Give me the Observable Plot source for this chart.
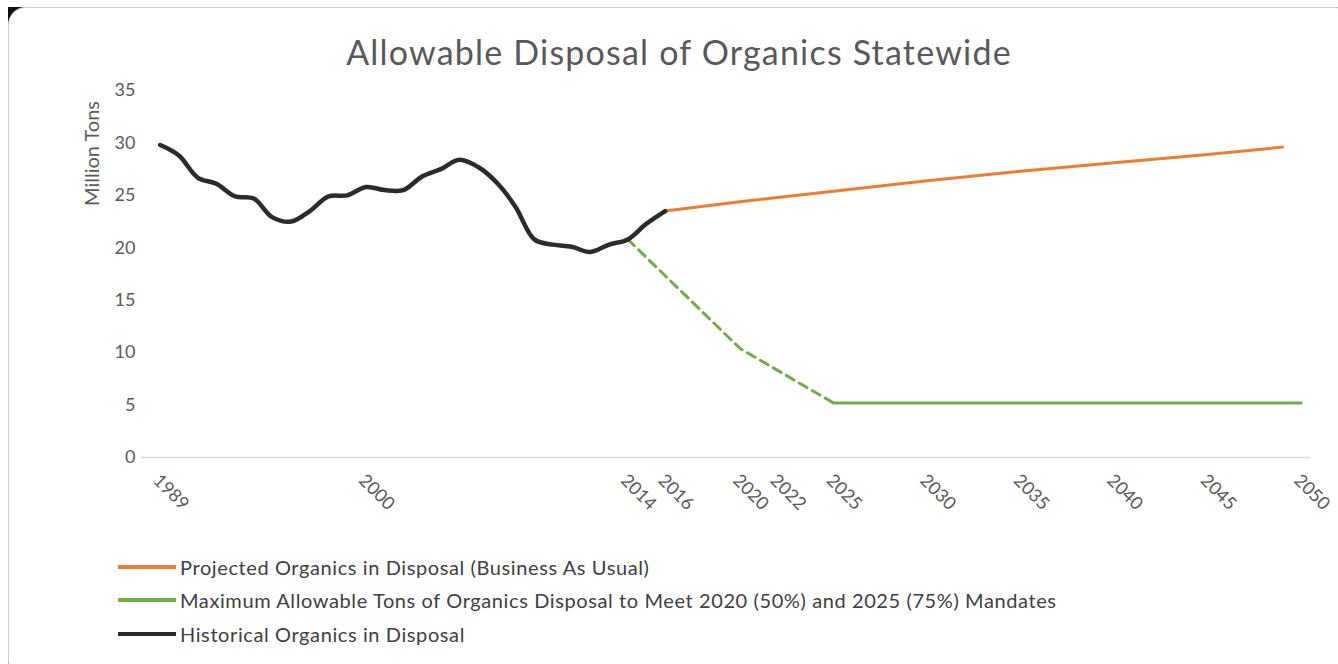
<!DOCTYPE html>
<html><head><meta charset="utf-8">
<script src="https://cdn.jsdelivr.net/npm/d3@7"></script>
<script src="https://cdn.jsdelivr.net/npm/@observablehq/plot@0.6"></script>
<style>
html,body{margin:0;padding:0;background:#fff;width:1338px;height:664px;overflow:hidden;font-family:Lato,"Open Sans",sans-serif;}
#frame{position:absolute;left:8px;top:7px;width:1345px;height:672px;background:#111;}
#card{position:absolute;left:0;top:0;right:0;bottom:0;background:#fff;border-radius:18px;border-top:1.5px solid #d0d0d0;border-left:1.5px solid #d0d0d0;}
#title{position:absolute;left:10px;width:1338px;top:31px;text-align:center;font-size:34px;letter-spacing:1.2px;color:#595959;}
#chart{position:absolute;left:0;top:0;}
#legend{position:absolute;left:118px;top:550px;}
.row{display:flex;align-items:center;height:33.5px;font-size:20px;letter-spacing:0.6px;color:#404040;}
.sw{width:58px;height:4px;margin-right:4px;}
</style></head>
<body>
<div id="frame"><div id="card"></div></div>
<div id="title">Allowable Disposal of Organics Statewide</div>
<div id="chart"></div>
<div id="legend"></div>
<script>
// Historical organics in disposal (million tons)
const histYears = [1989,1990,1991,1992,1993,1994,1995,1996,1997,1998,1999,2000,2001,2002,2003,2004,2005,2006,2007,2008,2009,2010,2011,2012,2013,2014,2015,2016];
const histValues = [29.8,28.8,26.7,26.1,24.9,24.7,22.9,22.5,23.5,24.9,25.0,25.8,25.5,25.5,26.8,27.5,28.4,27.7,26.2,23.9,20.8,20.3,20.1,19.6,20.3,20.8,22.3,23.5];
// Projected (business as usual)
const projYears = [2016,2020,2025,2030,2035,2040,2045,2049];
const projValues = [23.5,24.4,25.4,26.4,27.3,28.1,28.9,29.6];
// Maximum allowable (mandates)
const maxYears = [2014,2020,2025,2030,2035,2040,2045,2050];
const maxValues = [20.8,10.4,5.2,5.2,5.2,5.2,5.2,5.2];
// Axis ticks
const xTickYears = [1989,2000,2014,2016,2020,2022,2025,2030,2035,2040,2045,2050];
const yTicks = [0,5,10,15,20,25,30,35];
// Legend entries
const seriesNames = ["Projected Organics in Disposal (Business As Usual)","Maximum Allowable Tons of Organics Disposal to Meet 2020 (50%) and 2025 (75%) Mandates","Historical Organics in Disposal"];
const seriesColors = ["#ED7D31","#70AD47","#2b2b2b"];

const hist = histYears.map((y,i)=>({year:y, value:histValues[i]}));
const proj = projYears.map((y,i)=>({year:y, value:projValues[i]}));
const maxAll = maxYears.map((y,i)=>({year:y, value:maxValues[i]}));
const maxDashed = maxAll.filter(d=>d.year<=2025);
const maxSolid = maxAll.filter(d=>d.year>=2025);

const font = "Lato, 'Open Sans', sans-serif";
const chart = Plot.plot({
  width:1338, height:520,
  marginLeft:141, marginRight:28, marginTop:90, marginBottom:63,
  x:{domain:[1988,2050.5]},
  y:{domain:[0,35]},
  style:{fontFamily:font, fontSize:"18px", color:"#595959", background:"transparent", overflow:"visible"},
  marks:[
    Plot.ruleY([0],{stroke:"#d9d9d9", strokeWidth:1.5}),
    Plot.axisY({ticks:yTicks, tickSize:0, tickPadding:6, label:null, fontSize:18}),
    Plot.axisX({ticks:xTickYears, tickSize:0, tickPadding:20, tickRotate:45, tickFormat:d=>String(d), label:null, fontSize:18, dx:-4}),
    Plot.text(["Million Tons"],{frameAnchor:"top-left", rotate:-90, dx:-57, dy:63, textAnchor:"middle", fontSize:20, letterSpacing:"1px", fill:"#595959"}),
    Plot.line(maxDashed,{x:"year", y:"value", stroke:seriesColors[1], strokeWidth:3, strokeDasharray:"9,6"}),
    Plot.line(maxSolid,{x:"year", y:"value", stroke:seriesColors[1], strokeWidth:3}),
    Plot.line(proj,{x:"year", y:"value", stroke:seriesColors[0], strokeWidth:3}),
    Plot.line(hist,{x:"year", y:"value", stroke:seriesColors[2], strokeWidth:4.5, curve:"catmull-rom"})
  ]
});
document.getElementById("chart").appendChild(chart);

const leg = document.getElementById("legend");
seriesNames.forEach((n,i)=>{
  const r = document.createElement("div"); r.className="row";
  const s = document.createElement("div"); s.className="sw"; s.style.background=seriesColors[i];
  const t = document.createElement("span"); t.textContent=n;
  r.appendChild(s); r.appendChild(t); leg.appendChild(r);
});
</script>
</body></html>
